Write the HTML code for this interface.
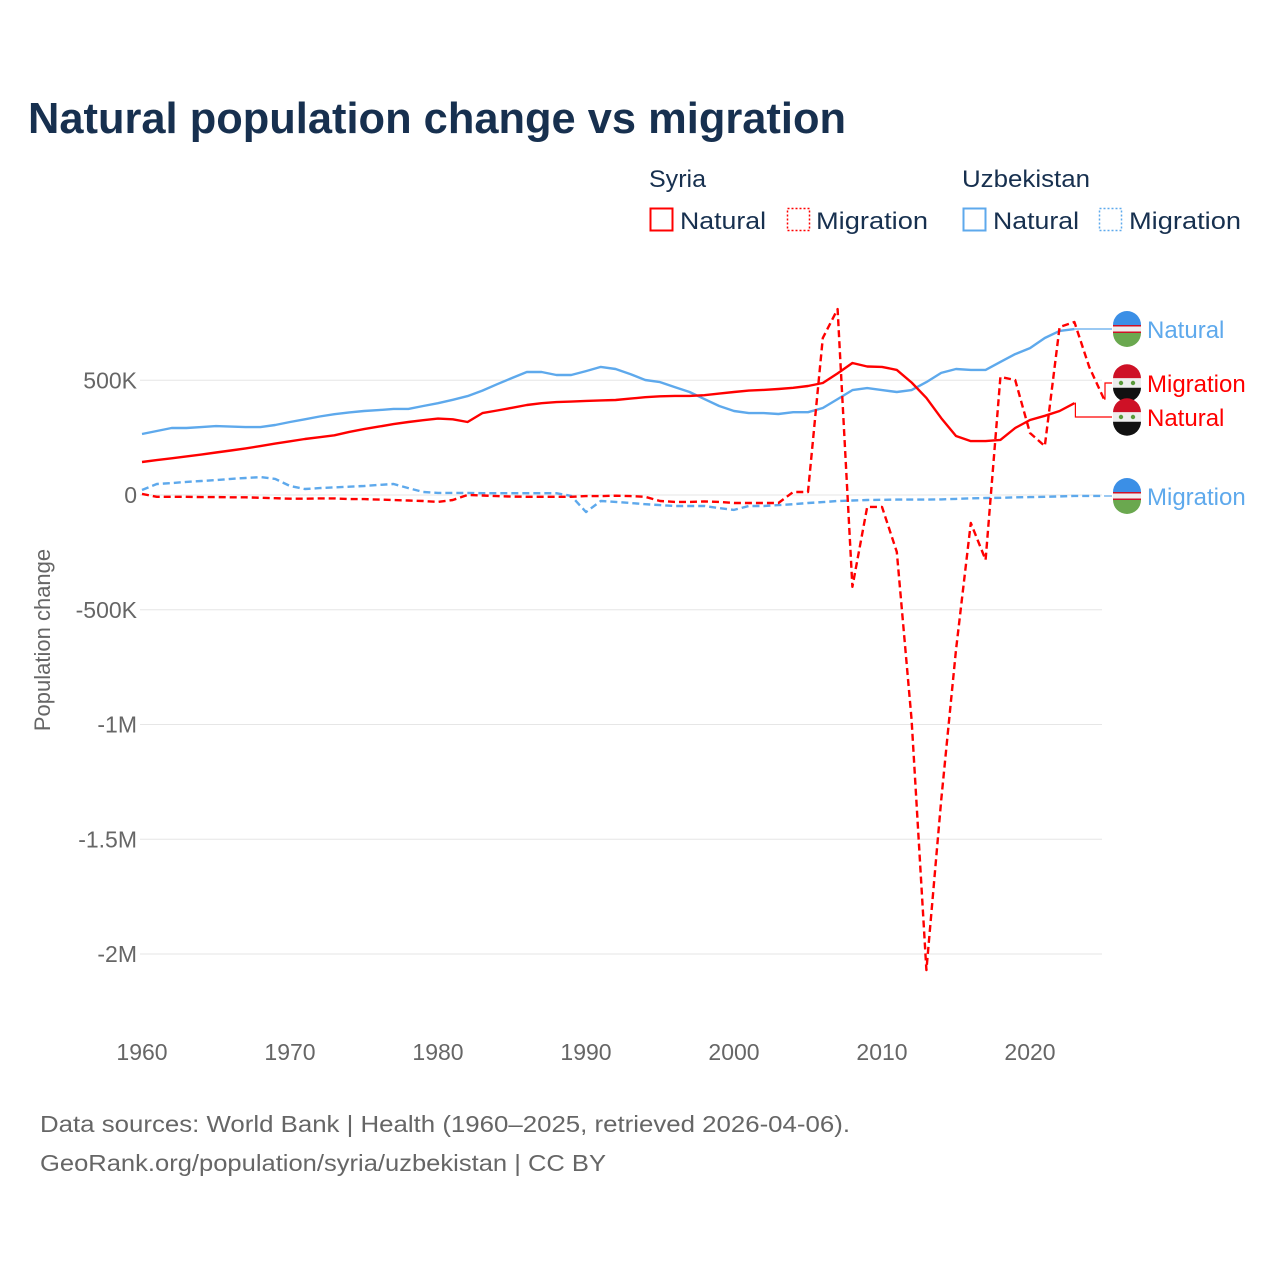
<!DOCTYPE html>
<html><head><meta charset="utf-8"><style>
html,body{margin:0;padding:0;background:#fff}
svg{display:block;font-family:"Liberation Sans",sans-serif}
</style></head><body>
<svg id="chart" width="1280" height="1280" viewBox="0 0 1280 1280">
<text x="28" y="133" font-size="44" font-weight="bold" fill="#17304f" textLength="818" lengthAdjust="spacingAndGlyphs">Natural population change vs migration</text>
<g font-size="24" fill="#17304f">
<text x="649" y="187" textLength="57" lengthAdjust="spacingAndGlyphs">Syria</text>
<text x="962" y="187" textLength="128" lengthAdjust="spacingAndGlyphs">Uzbekistan</text>
<g><rect x="650.5" y="208.5" width="22" height="22" fill="none" stroke="#ff0000" stroke-width="2"/><text x="680" y="229" textLength="86" lengthAdjust="spacingAndGlyphs">Natural</text></g>
<g><rect x="787.5" y="208.5" width="22" height="22" fill="none" stroke="#ff0000" stroke-width="1.5" stroke-dasharray="2,2"/><text x="816" y="229" textLength="112" lengthAdjust="spacingAndGlyphs">Migration</text></g>
<g><rect x="963.5" y="208.5" width="22" height="22" fill="none" stroke="#5ea9ec" stroke-width="2"/><text x="993" y="229" textLength="86" lengthAdjust="spacingAndGlyphs">Natural</text></g>
<g><rect x="1099.5" y="208.5" width="22" height="22" fill="none" stroke="#5ea9ec" stroke-width="1.5" stroke-dasharray="2,2"/><text x="1129" y="229" textLength="112" lengthAdjust="spacingAndGlyphs">Migration</text></g>
</g>
<g id="grid"></g>
<g id="yticks" font-size="23" fill="#666"></g>
<g id="xticks" font-size="23" fill="#666"></g>
<text transform="translate(50,640) rotate(-90)" text-anchor="middle" font-size="22" fill="#666">Population change</text>
<g id="series"></g>
<g id="labels" font-size="24"></g>
<g font-size="23" fill="#666">
<text x="40" y="1132" textLength="810" lengthAdjust="spacingAndGlyphs">Data sources: World Bank | Health (1960–2025, retrieved 2026-04-06).</text>
<text x="40" y="1171" textLength="566" lengthAdjust="spacingAndGlyphs">GeoRank.org/population/syria/uzbekistan | CC BY</text>
</g>
</svg>
<script>
const years = [];
for (let y = 1960; y <= 2025; y++) years.push(y);
const syriaNatural = [144,152,160,168,176,185,194,203,213,224,234,244,252,260,275,287,298,309,318,326,333,330,318,357,368,380,392,400,405,407,410,412,414,420,426,430,432,432,435,442,449,455,458,462,467,475,488,530,575,560,558,545,490,423,335,257,235,235,240,292,327,345,366,400];
const uzbNatural = [266,279,292,292,296,300,298,296,296,305,318,330,342,352,360,366,370,375,375,388,400,415,431,455,483,510,536,536,523,523,540,558,549,527,501,492,470,449,418,388,366,357,357,353,361,361,379,418,457,466,457,449,457,492,532,549,545,545,580,614,640,684,715,723];
const syriaMigration = [5,-8,-8,-8,-9,-9,-10,-10,-12,-14,-16,-16,-15,-15,-18,-18,-20,-22,-24,-26,-30,-22,0,-2,-5,-7,-8,-8,-8,-8,-5,-5,-3,-5,-8,-26,-30,-30,-28,-30,-35,-35,-35,-35,13,13,684,810,-400,-52,-52,-248,-980,-2070,-1330,-675,-122,-283,514,501,270,213,732,754,558,418];
const uzbMigration = [22,48,52,57,61,65,70,74,78,70,39,26,30,33,36,39,44,48,30,13,9,9,9,8,8,8,8,8,8,-4,-74,-26,-30,-35,-40,-44,-48,-48,-48,-57,-65,-48,-48,-44,-40,-35,-31,-26,-24,-22,-21,-20,-20,-20,-19,-17,-15,-13,-12,-10,-9,-8,-6,-4,-4,-4];
const yTicks = [500,0,-500,-1000,-1500,-2000];
const yTickLabels = ["500K","0","-500K","-1M","-1.5M","-2M"];
const xTicks = [1960,1970,1980,1990,2000,2010,2020];

const NS = "http://www.w3.org/2000/svg";
const xs = y => 142 + (y - 1960) * 14.8;
const ys = v => 495 - v * 114.75 / 500;
function mk(tag, attrs, parent){const e=document.createElementNS(NS,tag);for(const k in attrs)e.setAttribute(k,attrs[k]);parent.appendChild(e);return e;}

const grid=document.getElementById('grid'), yt=document.getElementById('yticks'), xt=document.getElementById('xticks');
yTicks.forEach((v,i)=>{
  const l=mk('line',{x1:140,x2:1102,y1:ys(v),y2:ys(v),stroke:'#e6e6e6','stroke-width':1},grid);
  
  
  const t=mk('text',{x:137,y:ys(v)+8,'text-anchor':'end'},yt);
  t.textContent=yTickLabels[i];
  
  
});
xTicks.forEach(y=>{
  const t=mk('text',{x:xs(y),y:1060,'text-anchor':'middle'},xt);
  t.textContent=String(y);
  
  
});

const series=document.getElementById('series');
function line(data,color,dash,name){
  const d=data.map((v,i)=>(i?'L':'M')+xs(years[i]).toFixed(1)+','+ys(v).toFixed(1)).join('');
  const p=mk('path',{d:d,fill:'none',stroke:color,'stroke-width':2.4,'stroke-linejoin':'round'},series);
  if(dash)p.setAttribute('stroke-dasharray',dash);
  
  
  return p;
}
line(uzbMigration,'#5ea9ec','7,4','line-uzbekistan-migration');
line(uzbNatural,'#5ea9ec',null,'line-uzbekistan-natural');
line(syriaMigration,'#ff0000','7,4','line-syria-migration');
line(syriaNatural,'#ff0000',null,'line-syria-natural');

const labels=document.getElementById('labels');
function endLabel(data,color,ly,text,flag,name){
  const lastI=data.length-1, x0=xs(years[lastI]), y0=ys(data[lastI]);
  const c=mk('path',{d:`M${x0},${y0}H${x0+1}V${ly}H1112`,fill:'none',stroke:color,'stroke-width':1.2},labels);
  
  
  const g=mk('g',{},labels);
  
  
  const cx=1127,r=14;
  if(flag==='sy'){
    mk('path',{d:`M${cx-r},${ly-4.7}A${r},${r} 0 0 1 ${cx+r},${ly-4.7}Z`,fill:'#ce1126'},g);
    mk('rect',{x:cx-r,y:ly-4.7,width:2*r,height:9.4,fill:'#eee'},g);
    mk('path',{d:`M${cx-r},${ly+4.7}A${r},${r} 0 0 0 ${cx+r},${ly+4.7}Z`,fill:'#111'},g);
    mk('circle',{cx:cx-6,cy:ly,r:2.2,fill:'#5a9a3a'},g);
    mk('circle',{cx:cx+6,cy:ly,r:2.2,fill:'#5a9a3a'},g);
  } else {
    mk('path',{d:`M${cx-r},${ly-4}A${r},${r} 0 0 1 ${cx+r},${ly-4}Z`,fill:'#3b8fe6'},g);
    mk('rect',{x:cx-r,y:ly-4,width:2*r,height:8,fill:'#eee'},g);
    mk('rect',{x:cx-r,y:ly-4,width:2*r,height:1.5,fill:'#ce1126'},g);
    mk('rect',{x:cx-r,y:ly+2.5,width:2*r,height:1.5,fill:'#ce1126'},g);
    mk('path',{d:`M${cx-r},${ly+4}A${r},${r} 0 0 0 ${cx+r},${ly+4}Z`,fill:'#6aa84f'},g);
  }
  const t=mk('text',{x:1147,y:ly+9,fill:color},labels);
  t.textContent=text;
  
  
}
endLabel(uzbNatural,'#5ea9ec',329,'Natural','uz','label-uzbekistan-natural');
endLabel(syriaMigration,'#ff0000',383,'Migration','sy','label-syria-migration');
endLabel(syriaNatural,'#ff0000',417,'Natural','sy','label-syria-natural');
endLabel(uzbMigration,'#5ea9ec',496,'Migration','uz','label-uzbekistan-migration');
</script>
</body></html>
